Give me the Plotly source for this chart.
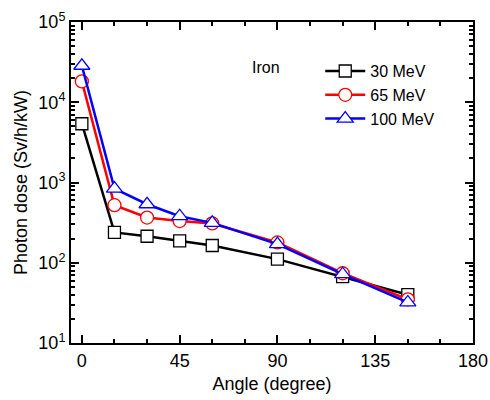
import plotly.graph_objects as go

angles = [0, 15, 30, 45, 60, 90, 120, 150]
dose_30 = [5400, 239, 214, 187, 164, 111, 67, 40]
dose_65 = [18200, 521, 366, 331, 309, 179, 74, 35]
dose_100 = [28500, 840, 536, 380, 314, 171, 72, 32]
series_names = ["30 MeV", "65 MeV", "100 MeV"]
x_ticks = [0, 45, 90, 135, 180]
y_ticks = [10, 100, 1000, 10000, 100000]
y_ticktext = ["10<sup>1</sup>", "10<sup>2</sup>", "10<sup>3</sup>", "10<sup>4</sup>", "10<sup>5</sup>"]
y_minor = [m * d for d in [10, 100, 1000, 10000] for m in range(2, 10)]

FONT = "Liberation Sans, Arial, sans-serif"
fig = go.Figure()
styles = [("black", "square", 12), ("red", "circle", 13), ("blue", "triangle-up", 14)]
for name, ys, (col, sym, sz) in zip(series_names, [dose_30, dose_65, dose_100], styles):
    fig.add_trace(go.Scatter(
        x=angles, y=ys, name=name, mode="lines+markers",
        line=dict(color=col, width=2.5),
        marker=dict(symbol=sym, size=sz, color="white", line=dict(color=col, width=1.3)),
    ))

fig.add_annotation(x=77.5, y=4.43, xref="x", yref="y", text="Iron", showarrow=False,
                   xanchor="left", font=dict(size=16, color="black", family=FONT))

axis_common = dict(showline=True, linecolor="black", linewidth=2, mirror="allticks",
                   ticks="inside", ticklen=8, tickwidth=2, tickcolor="black",
                   showgrid=False, zeroline=False, automargin=False,
                   tickfont=dict(size=18, color="black", family=FONT))
fig.update_xaxes(range=[-5, 180], tickvals=x_ticks,
                 minor=dict(dtick=15, tick0=0, ticks="inside", ticklen=4, tickwidth=2, tickcolor="black", showgrid=False),
                 title=dict(text="Angle (degree)", font=dict(size=18, color="black", family=FONT), standoff=8),
                 **axis_common)
fig.update_yaxes(type="log", range=[1, 5], tickvals=y_ticks, ticktext=y_ticktext,
                 minor=dict(tickvals=y_minor, ticks="inside", ticklen=4, tickwidth=1.5, tickcolor="black", showgrid=False),
                 title=dict(text="Photon dose (Sv/h/kW)", font=dict(size=18, color="black", family=FONT), standoff=6),
                 **axis_common)
fig.update_layout(
    width=490, height=400, plot_bgcolor="white", paper_bgcolor="white",
    margin=dict(l=71, r=17, t=22, b=57),
    legend=dict(x=0.62, y=0.9, xanchor="left", yanchor="top", bgcolor="rgba(0,0,0,0)",
                font=dict(size=16, color="black", family=FONT), tracegroupgap=0, itemwidth=40),
)
fig.write_html("out.html", config={"displayModeBar": False},
               post_script="document.body.style.margin='0';document.body.style.overflow='hidden';")
